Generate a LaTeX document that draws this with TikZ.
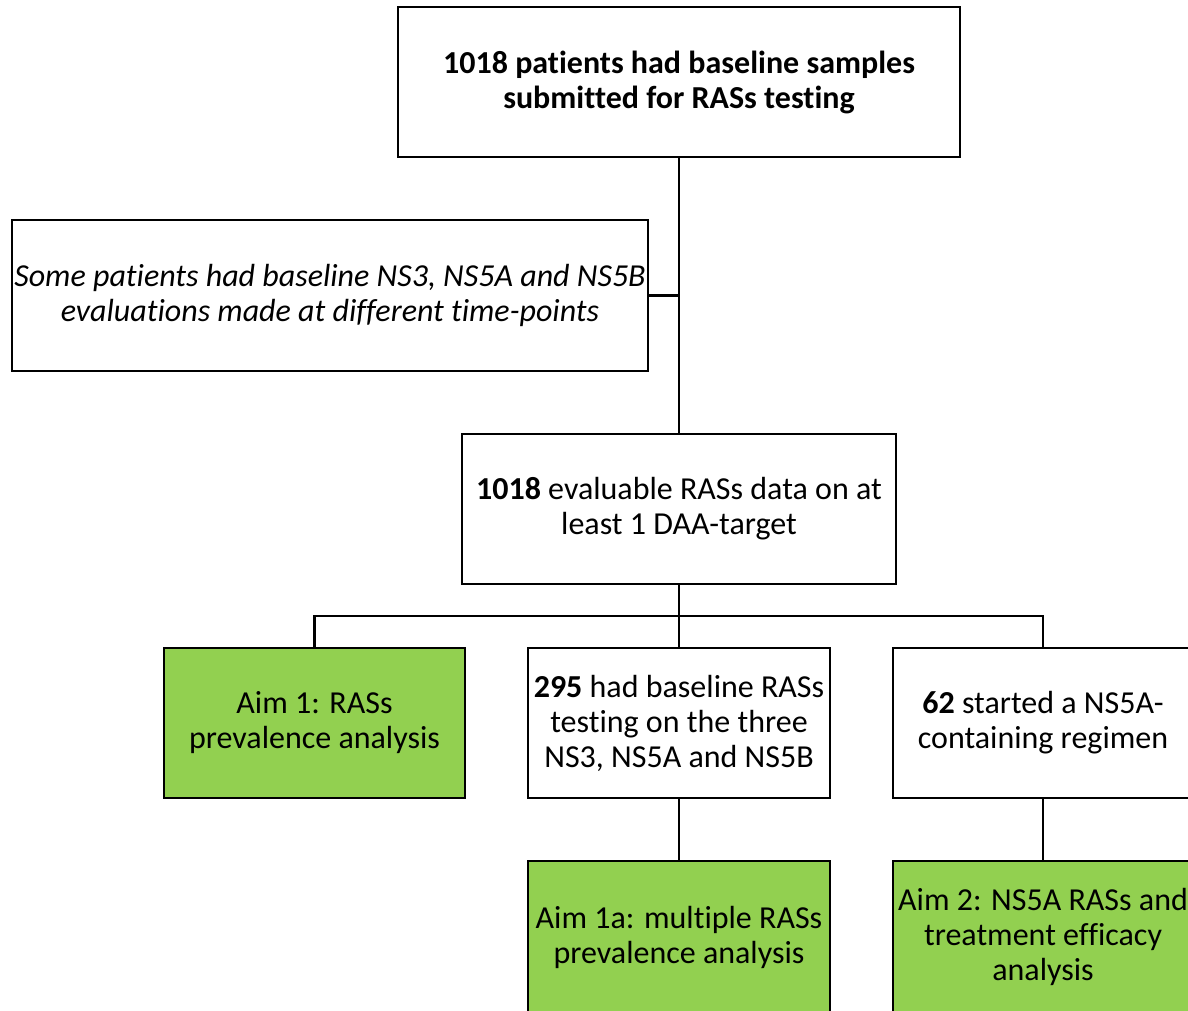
\documentclass[tikz,border=0pt]{standalone}
\usepackage{fontspec}
\setmainfont[Ligatures=NoCommon]{Carlito}
\definecolor{aimgreen}{HTML}{92D050}
\begin{document}
\begin{tikzpicture}[x=1pt,y=-1pt,
  box/.style={draw=black,line width=2.2pt,inner sep=0pt,align=center,
    font=\fontsize{32}{35}\selectfont},
  whitebox/.style={box,fill=white},
  greenbox/.style={box,fill=aimgreen},
  conn/.style={draw=black,line width=2.2pt}]
\useasboundingbox (0,0) rectangle (1188,1010);
\clip (0,0) rectangle (1188,1010);
\node[whitebox,minimum width=562pt,minimum height=150pt] (top) at (679,82)
  {\textbf{1018 patients had baseline samples}\\\textbf{submitted for RASs testing}};
\node[whitebox,minimum width=636pt,minimum height=151pt] (side) at (330,295.5)
  {\itshape Some patients had baseline NS3, NS5A and NS5B\\\itshape evaluations made at different time-points};
\node[whitebox,minimum width=434pt,minimum height=150pt] (mid) at (679,509)
  {\textbf{1018} evaluable RASs data on at\\least 1 DAA-target};
\node[greenbox,minimum width=301pt,minimum height=150pt] (aim1) at (314.5,723)
  {Aim 1: RASs\\prevalence analysis};
\node[whitebox,minimum width=302pt,minimum height=150pt] (n295) at (679,723)
  {\textbf{295} had baseline RASs\\testing on the three\\NS3, NS5A and NS5B};
\node[whitebox,minimum width=300pt,minimum height=150pt] (n62) at (1043,723)
  {\textbf{62} started a NS5A-\\containing regimen};
\node[greenbox,minimum width=302pt,minimum height=152pt] (aim1a) at (679,937)
  {Aim 1a: multiple RASs\\prevalence analysis};
\node[greenbox,minimum width=300pt,minimum height=152pt] (aim2) at (1043,937)
  {Aim 2: NS5A RASs and\\treatment efficacy\\analysis};
\coordinate (br) at (679,616);
\draw[conn] (top.south) -- (mid.north);
\draw[conn] (side.east) -- (side.east -| top.south);
\draw[conn] (mid.south) -- (br);
\draw[conn] (aim1.north) -- (aim1.north |- br) -- (n62.north |- br) -- (n62.north);
\draw[conn] (br) -- (n295.north);
\draw[conn] (n295.south) -- (aim1a.north);
\draw[conn] (n62.south) -- (aim2.north);
\end{tikzpicture}
\end{document}
